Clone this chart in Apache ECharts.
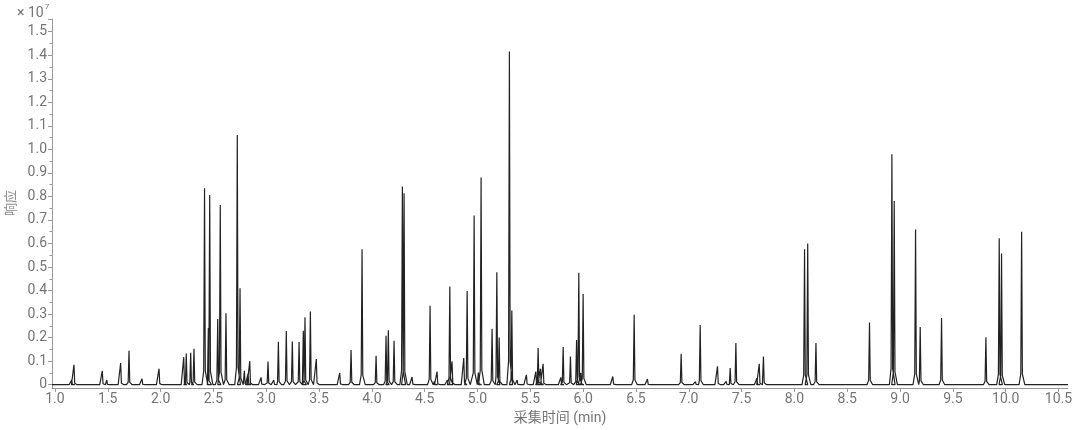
<!DOCTYPE html>
<html>
<head>
<meta charset="utf-8">
<script src="https://cdn.jsdelivr.net/npm/echarts@6/dist/echarts.min.js"></script>
<style>
html,body{margin:0;padding:0;background:#fff;}
#chart{width:1080px;height:430px;}
</style>
</head>
<body>
<div id="chart"></div>
<script>
// Retention time (min) of each peak
const peakTimes = [
  1.158, 1.180, 1.448, 1.490, 1.622, 1.701, 1.824, 1.985,
  2.219, 2.243, 2.285, 2.316, 2.416, 2.452, 2.465, 2.541, 2.565, 2.619,
  2.726, 2.752, 2.793, 2.828, 2.844, 2.951, 3.017, 3.071, 3.115, 3.190,
  3.247, 3.311, 3.351, 3.367, 3.418, 3.474, 3.696, 3.803, 3.907,
  4.040, 4.134, 4.156, 4.210, 4.289, 4.305, 4.381, 4.551, 4.592, 4.617,
  4.715, 4.738, 4.759, 4.870, 4.902, 4.968, 5.008, 5.034, 5.138, 5.183,
  5.205, 5.302, 5.325, 5.375, 5.463, 5.552, 5.574, 5.596, 5.621, 5.789,
  5.811, 5.880, 5.938, 5.959, 5.978, 6.000, 6.281, 6.483, 6.609, 6.928,
  7.063, 7.108, 7.272, 7.354, 7.392, 7.446, 7.645, 7.667, 7.707,
  8.096, 8.126, 8.204, 8.711, 8.923, 8.945, 9.147, 9.191, 9.393,
  9.813, 9.939, 9.961, 10.151
];
// Peak response (x 10^7)
const peakHeights = [
  0.020, 0.085, 0.059, 0.020, 0.092, 0.144, 0.025, 0.068,
  0.117, 0.133, 0.136, 0.153, 0.835, 0.241, 0.806, 0.279, 0.764, 0.304,
  1.061, 0.410, 0.059, 0.047, 0.100, 0.031, 0.098, 0.020, 0.183, 0.228,
  0.184, 0.181, 0.229, 0.287, 0.311, 0.109, 0.050, 0.147, 0.576,
  0.123, 0.208, 0.231, 0.187, 0.842, 0.814, 0.033, 0.335, 0.014, 0.056,
  0.020, 0.417, 0.099, 0.113, 0.398, 0.719, 0.052, 0.881, 0.238, 0.478,
  0.201, 1.416, 0.315, 0.020, 0.042, 0.056, 0.156, 0.068, 0.089, 0.031,
  0.160, 0.120, 0.190, 0.476, 0.050, 0.385, 0.035, 0.297, 0.024, 0.131,
  0.013, 0.254, 0.078, 0.014, 0.071, 0.177, 0.028, 0.089, 0.120,
  0.576, 0.600, 0.177, 0.264, 0.979, 0.781, 0.660, 0.245, 0.283,
  0.202, 0.622, 0.558, 0.650
];
const xTickLabels = [1.0, 1.5, 2.0, 2.5, 3.0, 3.5, 4.0, 4.5, 5.0, 5.5, 6.0, 6.5, 7.0, 7.5, 8.0, 8.5, 9.0, 9.5, 10.0, 10.5];
const yTickLabels = [0, 0.1, 0.2, 0.3, 0.4, 0.5, 0.6, 0.7, 0.8, 0.9, 1.0, 1.1, 1.2, 1.3, 1.4, 1.5];
const yMinorTicks = [0.05, 0.15, 0.25, 0.35, 0.45, 0.55, 0.65, 0.75, 0.85, 0.95, 1.05, 1.15, 1.25, 1.35, 1.45];

const X_MIN = 0.972, X_MAX = 10.59, Y_MIN = -0.014, Y_MAX = 1.554;

// peak outline (drawing style): offsets in min and fraction of apex height
const shapeDx = [-0.024, -0.008, 0, 0.007, 0.03];
const shapeFr = [0, 0.07, 1, 0.07, 0];

const trace = [[X_MIN, 0]];
peakTimes.forEach((t, i) => {
  const h = peakHeights[i];
  shapeDx.forEach((dx, k) => trace.push([t + dx, h * shapeFr[k]]));
});
trace.push([X_MAX, 0]);

const axisGray = '#9a9a9a';
const labelGray = '#757575';
const font = 'Roboto, "Noto Sans CJK SC", sans-serif';

const chart = echarts.init(document.getElementById('chart'), null, {renderer: 'canvas'});
chart.setOption({
  animation: false,
  backgroundColor: '#fff',
  grid: {left: 52, right: 12, top: 19, bottom: 42, containLabel: false, outerBoundsMode: 'none'},
  xAxis: {
    type: 'value',
    min: X_MIN, max: X_MAX,
    name: '采集时间 (min)',
    nameLocation: 'middle',
    nameGap: 23,
    nameTextStyle: {color: labelGray, fontSize: 14, fontFamily: font},
    axisLine: {show: true, onZero: false, lineStyle: {color: axisGray, width: 1}},
    axisTick: {show: true, length: 4, customValues: xTickLabels, lineStyle: {color: axisGray}},
    axisLabel: {
      customValues: xTickLabels,
      color: labelGray, fontSize: 14, fontFamily: font, margin: 5,
      formatter: v => (+v).toFixed(1)
    },
    splitLine: {show: false}
  },
  yAxis: [{
    type: 'value',
    min: Y_MIN, max: Y_MAX,
    axisLine: {show: true, lineStyle: {color: axisGray, width: 1}},
    axisTick: {show: true, length: 4, customValues: yTickLabels.concat([Y_MAX]), lineStyle: {color: axisGray}},
    axisLabel: {
      customValues: yTickLabels,
      color: labelGray, fontSize: 14, fontFamily: font, margin: 5,
      formatter: v => (+v === 0 ? '0' : (+v).toFixed(1))
    },
    splitLine: {show: false}
  }, {
    type: 'value',
    position: 'left',
    min: Y_MIN, max: Y_MAX,
    axisLine: {show: false},
    axisTick: {show: true, length: 2.5, customValues: yMinorTicks, lineStyle: {color: axisGray}},
    axisLabel: {show: false},
    splitLine: {show: false}
  }],
  graphic: [{
    type: 'text',
    left: 17, top: 3,
    style: {
      text: '{a|× 10}{b|7}',
      rich: {
        a: {fontSize: 14, fill: labelGray, fontFamily: font, padding: [4, 0, 0, 0]},
        b: {fontSize: 8, fill: labelGray, fontFamily: font, verticalAlign: 'top', padding: [0, 0, 7, 1]}
      }
    }
  }, {
    type: 'text',
    x: 12, y: 203,
    rotation: Math.PI / 2,
    style: {
      text: '响应',
      fill: '#8a8a8a', fontSize: 13, fontFamily: font,
      align: 'center', verticalAlign: 'middle'
    }
  }],
  series: [{
    type: 'line',
    data: trace,
    showSymbol: false,
    symbol: 'none',
    lineStyle: {color: '#222222', width: 1.2},
    clip: true
  }]
});
</script>
</body>
</html>
